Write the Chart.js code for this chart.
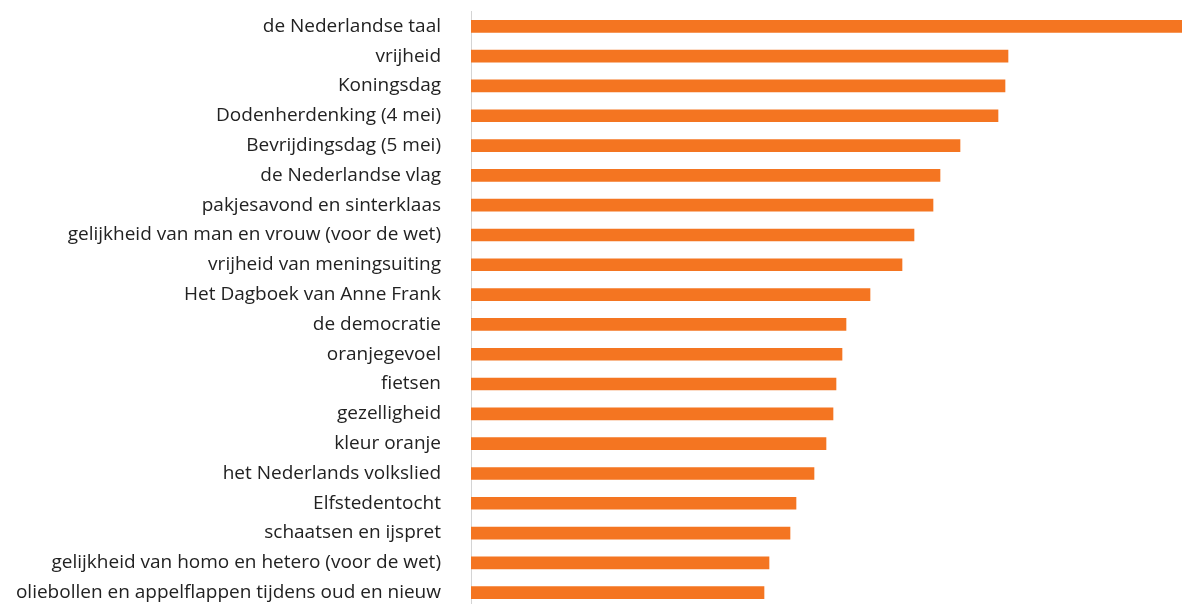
<!DOCTYPE html>
<html>
<head>
<meta charset="utf-8">
<script src="https://cdn.jsdelivr.net/npm/chart.js@4"></script>
<style>
  html, body { margin: 0; padding: 0; background: #fff; overflow: hidden; }
  canvas { display: block; }
</style>
</head>
<body>
<canvas id="chart" width="1182" height="619"></canvas>
<script>
// categories, top to bottom
const categories = [
    'de Nederlandse taal',
    'vrijheid',
    'Koningsdag',
    'Dodenherdenking (4 mei)',
    'Bevrijdingsdag (5 mei)',
    'de Nederlandse vlag',
    'pakjesavond en sinterklaas',
    'gelijkheid van man en vrouw (voor de wet)',
    'vrijheid van meningsuiting',
    'Het Dagboek van Anne Frank',
    'de democratie',
    'oranjegevoel',
    'fietsen',
    'gezelligheid',
    'kleur oranje',
    'het Nederlands volkslied',
    'Elfstedentocht',
    'schaatsen en ijspret',
    'gelijkheid van homo en hetero (voor de wet)',
    'oliebollen en appelflappen tijdens oud en nieuw'
];

// (relative lengths)
const values = [71.1, 53.7, 53.4, 52.7, 48.9, 46.9, 46.2, 44.3, 43.1, 39.9,
                37.5, 37.1, 36.5, 36.2, 35.5, 34.3, 32.5, 31.9, 29.8, 29.3];

const barColor = '#f47521';

new Chart(document.getElementById('chart'), {
    type: 'bar',
    data: {
        labels: categories,
        datasets: [{
            data: values,
            backgroundColor: barColor,
            barThickness: 12
        }]
    },
    options: {
        indexAxis: 'y',
        responsive: false,
        animation: false,
        layout: { padding: 0 },
        plugins: { legend: { display: false }, tooltip: { enabled: false } },
        scales: {
            x: { display: false, min: 0, max: 71.1 },
            y: {
                // tickLength gives the label gap without adding vertical padding
                grid: { display: false, drawTicks: true, tickLength: 30 },
                border: { display: true, color: '#d4d4d4', width: 1 },
                ticks: {
                    padding: 0,
                    autoSkip: false,
                    color: '#222',
                    font: { family: '"Open Sans", sans-serif', size: 19 }
                },
                afterFit: s => { s.width = 471; }
            }
        }
    }
});
</script>
</body>
</html>
